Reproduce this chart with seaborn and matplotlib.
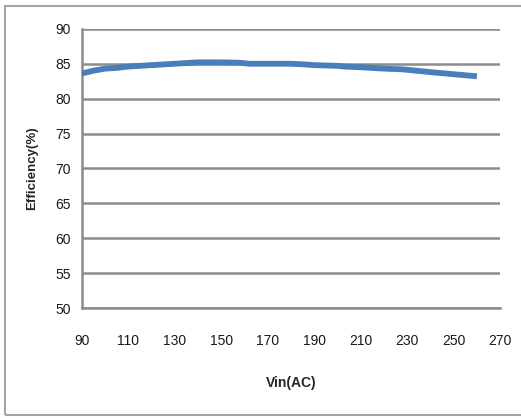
import pandas as pd
import matplotlib.pyplot as plt
import seaborn as sns
from matplotlib.patches import Rectangle

# data
vin = [90, 95, 100, 105, 110, 120, 130, 135, 140, 150, 158, 162, 170, 180, 186, 190,
       200, 203, 210, 220, 228, 234, 240, 250, 260]
eff = [83.6, 84.0, 84.3, 84.4, 84.6, 84.8, 85.0, 85.1, 85.2, 85.2, 85.15, 85.0, 85.0,
       85.0, 84.9, 84.8, 84.7, 84.6, 84.5, 84.3, 84.2, 84.0, 83.8, 83.5, 83.2]
x_ticks = list(range(90, 271, 20))
y_ticks = list(range(50, 91, 5))

df = pd.DataFrame({"Vin": vin, "Eff": eff})

sns.set_style("white")
plt.rcParams["font.family"] = ["Liberation Sans Narrow", "Liberation Sans", "DejaVu Sans"]

fig = plt.figure(figsize=(5.21, 4.18), dpi=100)
ax = fig.add_axes([0.157, 0.263, 0.803, 0.668])

# outer chart border
fig.patches.append(Rectangle((5 / 521, 3 / 418), 1.2, 1 - 9 / 418, transform=fig.transFigure,
                             fill=False, edgecolor="#a6a6a6", linewidth=1.5, zorder=0))

sns.lineplot(data=df, x="Vin", y="Eff", ax=ax, color="#4a7ebb", linewidth=4.2,
             solid_capstyle="butt", zorder=3)

ax.set_xlim(90, 270)
ax.set_ylim(50, 90)
ax.set_xticks(x_ticks)
ax.set_yticks(y_ticks)
ax.yaxis.grid(True, color="#8c8c8c", linewidth=1.8)
ax.xaxis.grid(False)
for s in ["top", "right"]:
    ax.spines[s].set_visible(False)
for s in ["left", "bottom"]:
    ax.spines[s].set_color("#8c8c8c")
    ax.spines[s].set_linewidth(1.8)
ax.tick_params(axis="both", which="both", direction="out", length=4, width=1.5,
               color="#8c8c8c", labelsize=10, labelcolor="#1a1a1a")
ax.tick_params(axis="x", pad=15)
ax.tick_params(axis="y", pad=4)

ax.set_xlabel("Vin(AC)", fontsize=10, fontweight="bold", labelpad=20)
ax.set_ylabel("Efficiency(%)", fontsize=9.5, fontweight="bold", labelpad=12)

fig.savefig("out.png", dpi=100)
